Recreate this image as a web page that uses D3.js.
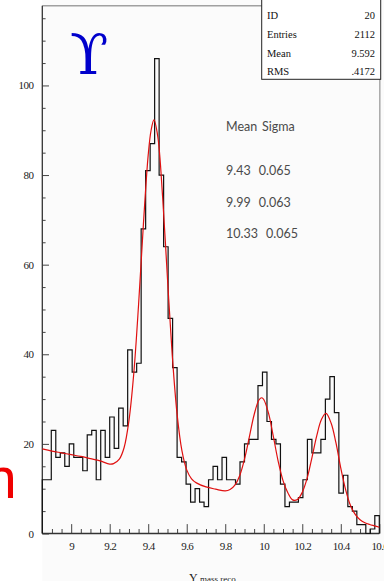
<!DOCTYPE html>
<html>
<head>
<meta charset="utf-8">
<script src="https://cdn.jsdelivr.net/npm/d3@7"></script>
<style>
  html, body { margin: 0; padding: 0; background: #fff; }
  svg { display: block; }
  .axis text { font-family: 'Liberation Serif', 'DejaVu Serif', serif; font-size: 11px; fill: #222; letter-spacing: -0.6px; }
  .stats text { font-family: 'Liberation Serif', serif; font-size: 10.5px; fill: #111; }
  .fitpars text { font-family: 'Lato', 'Open Sans', sans-serif; font-size: 12.5px; fill: #4a4a4a; }
</style>
</head>
<body>
<script>
const WIDTH = 384
const HEIGHT = 581

// histogram, 75 equal bins over the x range
const xRange = [8.85, 10.6]
const yMax = 117.8
const counts = [
  12, 12, 23, 17, 18, 15, 20, 17, 17, 14, 22, 23, 12, 23, 17, 26, 19, 28, 24,
  41, 36, 38, 68, 81, 87, 106, 80, 64, 48, 37, 17, 16, 11, 7,
  10, 7, 6, 12, 15, 12, 17, 12, 12, 11, 16, 20, 21, 21, 33, 36, 25, 21, 20, 11,
  6, 7, 7, 8, 12, 21, 18, 18, 21, 30, 35, 27, 9, 13, 6, 5, 2, 2, 0, 1, 4
]

// fitted curve
const fitX = [8.85, 8.9, 8.95, 9.0, 9.05, 9.1, 9.15, 9.2, 9.22, 9.25, 9.275, 9.3, 9.325, 9.35, 9.375,
  9.4, 9.415, 9.43, 9.45, 9.475, 9.5, 9.525, 9.55, 9.575, 9.6, 9.625, 9.65, 9.7, 9.75, 9.8,
  9.825, 9.85, 9.875, 9.9, 9.925, 9.95, 9.975, 9.99, 10.0, 10.025, 10.05, 10.075, 10.1, 10.125,
  10.15, 10.175, 10.2, 10.225, 10.25, 10.275, 10.3, 10.323, 10.35, 10.375, 10.4, 10.425, 10.45,
  10.475, 10.5, 10.525, 10.55, 10.575, 10.6]
const fitY = [18.9, 18.4, 18.0, 17.6, 17.2, 16.7, 16.2, 15.5, 15.6, 16.6, 19.2, 25.2, 35.7, 51.1, 69.0,
  84.5, 90.0, 92.3, 88.5, 75.0, 56.9, 39.7, 26.6, 18.5, 14.2, 12.2, 11.3, 10.4, 9.9, 9.5,
  9.8, 10.8, 12.9, 16.6, 21.5, 26.5, 29.8, 30.3, 29.9, 26.8, 21.6, 16.1, 11.8, 9.1,
  7.5, 7.6, 9.2, 12.3, 16.9, 21.8, 25.5, 26.8, 24.6, 20.2, 14.6, 9.8, 6.3,
  4.25, 3.05, 2.4, 2.0, 1.7, 1.4]

const xTicks = [9, 9.2, 9.4, 9.6, 9.8, 10, 10.2, 10.4, 10.6]
const yTicks = [0, 20, 40, 60, 80, 100]

const statLabels = ['ID', 'Entries', 'Mean', 'RMS']
const statValues = ['20', '2112', '9.592', '.4172']

const fitMeans = ['9.43', '9.99', '10.33']
const fitSigmas = ['0.065', '0.063', '0.065']

const MARGIN = { left: 42.3, right: 379.3, top: 5.7, bottom: 533.5 }

const svg = d3.select('body').append('svg')
  .attr('width', WIDTH)
  .attr('height', HEIGHT)
  .attr('viewBox', `0 0 ${WIDTH} ${HEIGHT}`)

svg.append('rect')
  .attr('x', MARGIN.left).attr('y', 0)
  .attr('width', WIDTH - MARGIN.left).attr('height', HEIGHT)
  .attr('fill', '#fbfbfb')

const x = d3.scaleLinear().domain(xRange).range([MARGIN.left, MARGIN.right])
const y = d3.scaleLinear().domain([0, yMax]).range([MARGIN.bottom, MARGIN.top])

// frame (grey top and right edges)
svg.append('line')
  .attr('x1', MARGIN.left).attr('x2', 262)
  .attr('y1', MARGIN.top).attr('y2', MARGIN.top)
  .attr('stroke', '#a0a0a0').attr('stroke-width', 1.5)
svg.append('line')
  .attr('x1', MARGIN.right + 0.5).attr('x2', MARGIN.right + 0.5)
  .attr('y1', 79).attr('y2', MARGIN.bottom)
  .attr('stroke', '#a8a8a8').attr('stroke-width', 1.5)

// y axis: labels outside, ticks inside
svg.append('g').attr('class', 'axis')
  .attr('transform', `translate(${MARGIN.left},0)`)
  .call(d3.axisLeft(y).tickValues(yTicks).tickSize(0).tickPadding(9))
  .call(g => g.select('.domain').remove())

const yMinor = d3.range(5, 116, 5).filter(v => v % 20 !== 0)
svg.append('g').attr('class', 'axis')
  .attr('transform', `translate(${MARGIN.left},0)`)
  .call(d3.axisRight(y).tickValues(yMinor).tickSize(3.3).tickFormat(''))
  .call(g => g.select('.domain').remove())
svg.append('g').attr('class', 'axis')
  .attr('transform', `translate(${MARGIN.left},0)`)
  .call(d3.axisRight(y).tickValues(yTicks).tickSize(6.7).tickFormat(''))
  .call(g => g.select('.domain').remove())

// x axis
svg.append('g').attr('class', 'axis')
  .attr('transform', `translate(0,${MARGIN.bottom})`)
  .call(d3.axisBottom(x).tickValues(xTicks).tickSize(0).tickPadding(8.7).tickFormat(d3.format('')))
  .call(g => g.select('.domain').remove())

const xMinor = d3.range(178, 213).filter(k => k % 4 !== 0).map(k => k / 20)
const xMajor = d3.range(180, 213, 4).map(k => k / 20)
svg.append('g').attr('class', 'axis')
  .attr('transform', `translate(0,${MARGIN.bottom})`)
  .call(d3.axisTop(x).tickValues(xMinor).tickSize(4.5).tickFormat(''))
  .call(g => g.select('.domain').remove())
svg.append('g').attr('class', 'axis')
  .attr('transform', `translate(0,${MARGIN.bottom})`)
  .call(d3.axisTop(x).tickValues(xMajor).tickSize(9.4).tickFormat(''))
  .call(g => g.select('.domain').remove())

svg.selectAll('.axis .tick line').attr('stroke', '#444').attr('stroke-width', 1)

svg.append('line')
  .attr('x1', MARGIN.left).attr('x2', MARGIN.left)
  .attr('y1', MARGIN.top).attr('y2', MARGIN.bottom)
  .attr('stroke', '#333').attr('stroke-width', 1.3)
svg.append('line')
  .attr('x1', MARGIN.left).attr('x2', MARGIN.right)
  .attr('y1', MARGIN.bottom).attr('y2', MARGIN.bottom)
  .attr('stroke', '#333').attr('stroke-width', 1.3)

// histogram as a step outline
const binW = (xRange[1] - xRange[0]) / counts.length
const steps = [[xRange[0], 0]]
counts.forEach((c, i) => {
  steps.push([xRange[0] + i * binW, c])
  steps.push([xRange[0] + (i + 1) * binW, c])
})
steps.push([xRange[1], 0])

svg.append('path')
  .datum(steps)
  .attr('fill', 'none')
  .attr('stroke', '#111')
  .attr('stroke-width', 1.2)
  .attr('d', d3.line().x(d => x(d[0])).y(d => y(d[1])))

// fit
svg.append('path')
  .datum(fitX.map((v, i) => [v, fitY[i]]))
  .attr('fill', 'none')
  .attr('stroke', '#e01010')
  .attr('stroke-width', 1.2)
  .attr('d', d3.line().x(d => x(d[0])).y(d => y(d[1])).curve(d3.curveCatmullRom))

// stats box
const stats = svg.append('g').attr('class', 'stats')
stats.append('rect')
  .attr('x', 261.7).attr('y', -1)
  .attr('width', 119).attr('height', 80.3)
  .attr('fill', '#fff').attr('stroke', '#222').attr('stroke-width', 1)
const statBase = [18.5, 37.5, 56.5, 74.5]
stats.selectAll('text.lab')
  .data(statLabels).enter().append('text')
  .attr('class', 'lab')
  .attr('x', 267).attr('y', (d, i) => statBase[i])
  .text(d => d)
stats.selectAll('text.val')
  .data(statValues).enter().append('text')
  .attr('class', 'val')
  .attr('x', 375).attr('y', (d, i) => statBase[i])
  .attr('text-anchor', 'end')
  .text(d => d)

// fit parameters
const fp = svg.append('g').attr('class', 'fitpars')
fp.append('text').attr('x', 226).attr('y', 130.7).text('Mean')
fp.append('text').attr('x', 262).attr('y', 130.7).text('Sigma')
const rowBase = [175, 206.7, 238.3]
fitMeans.forEach((m, i) => {
  const t = fp.append('text').attr('x', 226).attr('y', rowBase[i])
  t.append('tspan').text(m)
  t.append('tspan').attr('dx', 8).text(fitSigmas[i])
})

// big upsilon symbol
svg.append('text')
  .attr('x', 70).attr('y', 74)
  .attr('font-family', 'DejaVu Serif, serif')
  .attr('font-size', 56)
  .attr('fill', '#0000cc')
  .text('\u03D2')

// red letter cut off at the left edge
svg.append('text')
  .attr('x', -15).attr('y', 498)
  .attr('font-family', 'Liberation Sans, sans-serif')
  .attr('font-size', 57)
  .attr('fill', '#f00000')
  .text('n')

// x title
const title = svg.append('text')
  .attr('x', 189).attr('y', 581.5)
  .attr('font-family', 'Liberation Serif, serif')
  .attr('fill', '#222')
title.append('tspan').attr('font-size', 12).text('\u03A5')
title.append('tspan').attr('font-size', 9).text(' mass reco')
</script>
</body>
</html>
